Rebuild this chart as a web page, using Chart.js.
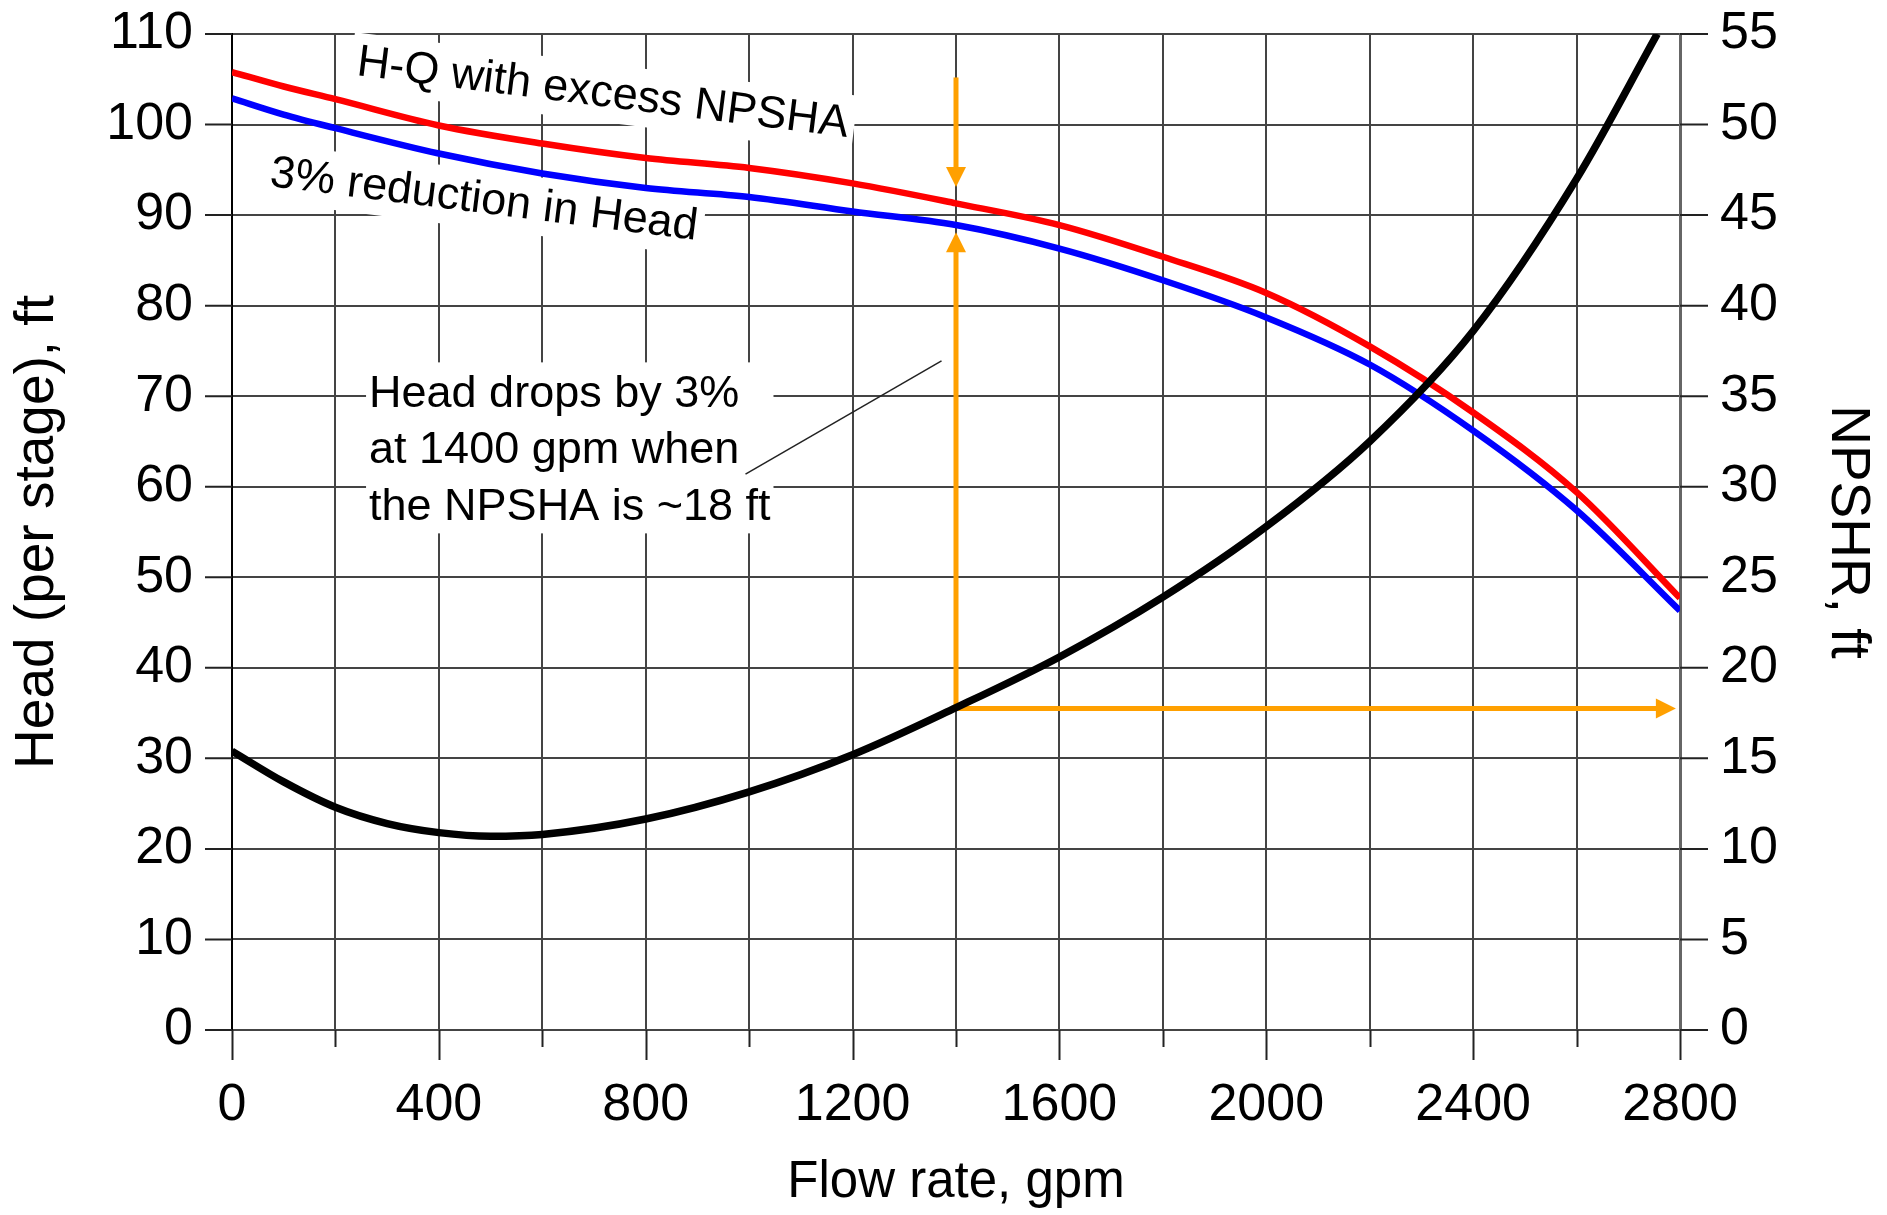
<!DOCTYPE html>
<html>
<head>
<meta charset="utf-8">
<script src="https://cdn.jsdelivr.net/npm/chart.js@4.4.1/dist/chart.umd.min.js"></script>
<style>
  html, body { margin: 0; padding: 0; background: #fff; }
  #wrap { width: 1887px; height: 1215px; }
</style>
</head>
<body>
<div id="wrap"><canvas id="chart" width="1887" height="1215"></canvas></div>
<script>
// flow rates (gpm) where the two head curves were read
const flowHead = [0, 100, 200, 400, 600, 800, 1000, 1200, 1400, 1600, 1800, 2000, 2200, 2400, 2600, 2800];
// H-Q with excess NPSHA (ft)
const headExcess = [105.8, 104.2, 102.8, 99.9, 97.9, 96.3, 95.2, 93.5, 91.3, 88.9, 85.4, 81.4, 75.5, 68.2, 59.4, 47.7];
// 3% reduction in head (ft)
const headReduced = [102.9, 101.1, 99.6, 96.8, 94.6, 93.0, 92.0, 90.4, 88.9, 86.3, 82.8, 78.7, 73.5, 66.2, 57.4, 46.3];

// NPSHR curve (right axis, ft)
const flowNpsh = [0, 100, 200, 300, 400, 500, 600, 800, 1000, 1200, 1400, 1600, 1800, 2000, 2200, 2400, 2600, 2756];
const npshr = [15.4, 13.7, 12.3, 11.4, 10.9, 10.7, 10.8, 11.65, 13.15, 15.2, 17.8, 20.6, 23.9, 27.8, 32.5, 38.6, 47.0, 55.0];

// the 1400 gpm reading
const markFlow = 1400;
const markNpsha = 17.75;     // right axis, ft
const markHeadTop = 105.2;   // start of the down arrow
const markHeadHigh = 93.1;   // tip of the down arrow
const markHeadLow = 88.1;    // tip of the up arrow
const markFlowEnd = 2792;    // tip of the right arrow

const FONT = "'Liberation Sans', Arial, sans-serif";
Chart.defaults.font.family = FONT;
Chart.defaults.color = "#000";

const toPoints = (xs, ys) => xs.map((q, i) => ({ x: q, y: ys[i] }));

// 🔥 tick marks (long every 400 gpm, short in between)
const tickMarks = {
  id: "tickMarks",
  afterDraw(chart) {
    const { ctx } = chart;
    const { x, y, y2 } = chart.scales;
    ctx.save();
    ctx.strokeStyle = "#222";
    ctx.lineWidth = 2;
    ctx.beginPath();
    x.ticks.forEach(t => {
      const px = Math.round(x.getPixelForValue(t.value)) + 0.5;
      const len = t.value % 400 === 0 ? 30 : 17;
      ctx.moveTo(px, x.top);
      ctx.lineTo(px, x.top + len);
    });
    y.ticks.forEach(t => {
      const py = y.getPixelForValue(t.value);
      ctx.moveTo(y.right - 27, py);
      ctx.lineTo(y.right, py);
    });
    y2.ticks.forEach(t => {
      const py = y2.getPixelForValue(t.value);
      ctx.moveTo(y2.left, py);
      ctx.lineTo(y2.left + 28, py);
    });
    ctx.stroke();
    ctx.restore();
  }
};

function arrowHead(ctx, tx, ty, dx, dy) {
  const len = 20, half = 10;
  ctx.beginPath();
  ctx.moveTo(tx, ty);
  ctx.lineTo(tx - dx * len - dy * half, ty - dy * len + dx * half);
  ctx.lineTo(tx - dx * len + dy * half, ty - dy * len - dx * half);
  ctx.closePath();
  ctx.fill();
}

// 🔥 notes, white boxes and orange arrows
const notes = {
  id: "notes",
  beforeDatasetsDraw(chart) {
    const { ctx } = chart;
    const { x, y } = chart.scales;
    ctx.save();
    ctx.font = `45px ${FONT}`;
    ctx.textBaseline = "middle";

    // rotated curve labels
    const labels = [
      { text: "H-Q with excess NPSHA", q: 717, h: 103.4 },
      { text: "3% reduction in Head", q: 487, h: 91.6 }
    ];
    labels.forEach(l => {
      const w = ctx.measureText(l.text).width;
      ctx.save();
      ctx.translate(x.getPixelForValue(l.q), y.getPixelForValue(l.h));
      ctx.rotate(7.2 * Math.PI / 180);
      ctx.fillStyle = "#fff";
      ctx.fillRect(-w / 2 - 6, -30, w + 12, 58);
      ctx.fillStyle = "#000";
      ctx.textAlign = "center";
      ctx.fillText(l.text, 0, 0);
      ctx.restore();
    });

    // note about the 3% drop
    const lines = ["Head drops by 3%", "at 1400 gpm when", "the NPSHA is ~18 ft"];
    const nx = x.getPixelForValue(265);
    const ny = y.getPixelForValue(70.2);
    const lh = 56.5;
    const maxW = Math.max(...lines.map(s => ctx.measureText(s).width));
    ctx.fillStyle = "#fff";
    ctx.fillRect(nx - 3, ny - 32, maxW + 6, lh * 2 + 58);
    ctx.fillStyle = "#000";
    ctx.textAlign = "left";
    lines.forEach((s, i) => ctx.fillText(s, nx, ny + i * lh));

    // leader line
    ctx.strokeStyle = "#222";
    ctx.lineWidth = 1.5;
    ctx.beginPath();
    ctx.moveTo(x.getPixelForValue(993), y.getPixelForValue(61.4));
    ctx.lineTo(x.getPixelForValue(1372), y.getPixelForValue(73.9));
    ctx.stroke();

    // orange arrows
    const orange = "#ffa000";
    const ax = x.getPixelForValue(markFlow);
    const aTop = y.getPixelForValue(markHeadTop);
    const aHigh = y.getPixelForValue(markHeadHigh);
    const aLow = y.getPixelForValue(markHeadLow);
    const aBase = y.getPixelForValue(markNpsha * 2);
    const aEnd = x.getPixelForValue(markFlowEnd);
    ctx.strokeStyle = orange;
    ctx.fillStyle = orange;
    ctx.lineWidth = 5;
    ctx.lineJoin = "miter";
    ctx.beginPath();
    ctx.moveTo(ax, aTop);
    ctx.lineTo(ax, aHigh - 18);
    ctx.stroke();
    arrowHead(ctx, ax, aHigh, 0, 1);
    ctx.beginPath();
    ctx.moveTo(ax, aLow + 18);
    ctx.lineTo(ax, aBase);
    ctx.lineTo(aEnd - 18, aBase);
    ctx.stroke();
    arrowHead(ctx, ax, aLow, 0, -1);
    arrowHead(ctx, aEnd, aBase, 1, 0);

    ctx.restore();
  }
};

// fixed box sizes so the plot area lands where the picture has it
const fixBox = (w, h) => s => {
  if (w) s.width = w;
  if (h) s.height = h;
  s.paddingTop = 0;
  s.paddingBottom = 0;
  s.paddingLeft = 0;
  s.paddingRight = 0;
};

new Chart(document.getElementById("chart"), {
  type: "line",
  data: {
    datasets: [
      {
        label: "NPSHR",
        data: toPoints(flowNpsh, npshr),
        yAxisID: "y2",
        borderColor: "#000",
        borderWidth: 7.5,
        pointRadius: 0,
        cubicInterpolationMode: "monotone"
      },
      {
        label: "H-Q with excess NPSHA",
        data: toPoints(flowHead, headExcess),
        yAxisID: "y",
        borderColor: "#ff0000",
        borderWidth: 6.5,
        pointRadius: 0,
        cubicInterpolationMode: "monotone"
      },
      {
        label: "3% reduction in Head",
        data: toPoints(flowHead, headReduced),
        yAxisID: "y",
        borderColor: "#0000ff",
        borderWidth: 6.5,
        pointRadius: 0,
        cubicInterpolationMode: "monotone"
      }
    ]
  },
  options: {
    responsive: false,
    devicePixelRatio: 1,
    animation: false,
    layout: { padding: { top: 34, left: 0, right: 0, bottom: 0 } },
    plugins: { legend: { display: false }, tooltip: { enabled: false } },
    scales: {
      x: {
        type: "linear",
        min: 0,
        max: 2800,
        afterFit: fixBox(0, 185),
        ticks: {
          stepSize: 200,
          autoSkip: false,
          maxRotation: 0,
          padding: 44,
          font: { size: 52 },
          callback: v => (v % 400 === 0 ? v : "")
        },
        grid: { color: "#444", lineWidth: 2, drawTicks: false },
        border: { color: "#444", width: 2 },
        title: {
          display: true,
          text: "Flow rate, gpm",
          font: { size: 51 },
          padding: { top: 0, bottom: 1 }
        }
      },
      y: {
        position: "left",
        min: 0,
        max: 110,
        afterFit: fixBox(232, 0),
        ticks: { stepSize: 10, padding: 39, font: { size: 52 } },
        grid: { color: "#444", lineWidth: 2, drawTicks: false },
        border: { color: "#000", width: 2 },
        title: {
          display: true,
          text: "Head (per stage), ft",
          font: { size: 55 },
          padding: { top: 5, bottom: 0 }
        }
      },
      y2: {
        position: "right",
        min: 0,
        max: 55,
        afterFit: fixBox(207, 0),
        ticks: { stepSize: 5, padding: 40, font: { size: 52 } },
        grid: { drawOnChartArea: false, drawTicks: false },
        border: { color: "#666", width: 3 },
        title: {
          display: true,
          text: "NPSHR, ft",
          font: { size: 55 },
          padding: { top: 7, bottom: 0 }
        }
      }
    }
  },
  plugins: [notes, tickMarks]
});
</script>
</body>
</html>
